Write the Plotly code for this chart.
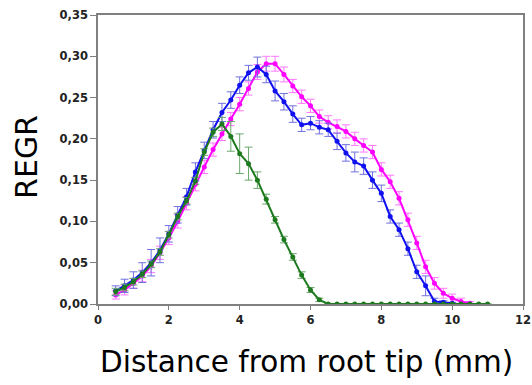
import plotly.graph_objects as go

# Distance from root tip (mm)
x_green = [0.5, 0.75, 1.0, 1.25, 1.5, 1.75, 2.0, 2.25, 2.5, 2.75, 3.0, 3.25, 3.5, 3.75,
           4.0, 4.25, 4.5, 4.75, 5.0, 5.25, 5.5, 5.75, 6.0, 6.25, 6.5, 6.75, 7.0, 7.25,
           7.5, 7.75, 8.0, 8.25, 8.5, 8.75, 9.0, 9.25, 9.5, 9.75, 10.0, 10.25, 10.5,
           10.75, 11.0]
green = [0.015, 0.020, 0.027, 0.036, 0.048, 0.063, 0.084, 0.106, 0.125, 0.149, 0.184,
         0.208, 0.218, 0.203, 0.182, 0.170, 0.150, 0.127, 0.102, 0.078, 0.057, 0.035,
         0.017, 0.005, 0.0, 0.0, 0.0, 0.0, 0.0, 0.0, 0.0, 0.0, 0.0, 0.0, 0.0, 0.0,
         0.0, 0.0, 0.0, 0.0, 0.0, 0.0, 0.0]
green_err = [0.004, 0.004, 0.004, 0.004, 0.004, 0.004, 0.004, 0.004, 0.004, 0.004,
             0.004, 0.005, 0.008, 0.018, 0.024, 0.020, 0.010, 0.006, 0.004, 0.004,
             0.004, 0.004, 0.003, 0.002, 0.0, 0.0, 0.0, 0.0, 0.0, 0.0, 0.0, 0.0, 0.0,
             0.0, 0.0, 0.0, 0.0, 0.0, 0.0, 0.0, 0.0, 0.0, 0.0]

x_blue = [0.5, 0.75, 1.0, 1.25, 1.5, 1.75, 2.0, 2.25, 2.5, 2.75, 3.0, 3.25, 3.5, 3.75,
          4.0, 4.25, 4.5, 4.75, 5.0, 5.25, 5.5, 5.75, 6.0, 6.25, 6.5, 6.75, 7.0, 7.25,
          7.5, 7.75, 8.0, 8.25, 8.5, 8.75, 9.0, 9.25, 9.5, 9.75, 10.0]
blue = [0.016, 0.022, 0.029, 0.038, 0.050, 0.065, 0.085, 0.108, 0.130, 0.160, 0.186,
        0.211, 0.232, 0.247, 0.265, 0.280, 0.287, 0.278, 0.258, 0.245, 0.230, 0.217,
        0.219, 0.214, 0.211, 0.197, 0.183, 0.172, 0.167, 0.150, 0.134, 0.106, 0.090,
        0.067, 0.039, 0.022, 0.003, 0.002, 0.001]
blue_err = [0.006, 0.008, 0.010, 0.012, 0.016, 0.015, 0.010, 0.010, 0.010, 0.011,
            0.010, 0.010, 0.011, 0.010, 0.010, 0.009, 0.012, 0.010, 0.012, 0.010,
            0.010, 0.008, 0.008, 0.008, 0.008, 0.010, 0.010, 0.012, 0.010, 0.010,
            0.010, 0.008, 0.008, 0.008, 0.008, 0.012, 0.004, 0.002, 0.001]

x_magenta = [0.5, 0.75, 1.0, 1.25, 1.5, 1.75, 2.0, 2.25, 2.5, 2.75, 3.0, 3.25, 3.5,
             3.75, 4.0, 4.25, 4.5, 4.75, 5.0, 5.25, 5.5, 5.75, 6.0, 6.25, 6.5, 6.75,
             7.0, 7.25, 7.5, 7.75, 8.0, 8.25, 8.5, 8.75, 9.0, 9.25, 9.5, 9.75, 10.0,
             10.25, 10.5]
magenta = [0.011, 0.017, 0.025, 0.034, 0.046, 0.062, 0.080, 0.100, 0.122, 0.145, 0.166,
           0.187, 0.206, 0.224, 0.242, 0.261, 0.281, 0.291, 0.291, 0.278, 0.264, 0.251,
           0.240, 0.227, 0.220, 0.215, 0.209, 0.200, 0.192, 0.184, 0.163, 0.148, 0.128,
           0.102, 0.074, 0.045, 0.025, 0.013, 0.007, 0.003, 0.001]
magenta_err = [0.005, 0.006, 0.006, 0.007, 0.008, 0.008, 0.008, 0.008, 0.008, 0.008,
               0.008, 0.008, 0.008, 0.008, 0.008, 0.008, 0.009, 0.009, 0.009, 0.009,
               0.008, 0.008, 0.008, 0.008, 0.008, 0.008, 0.008, 0.008, 0.008, 0.008,
               0.008, 0.008, 0.008, 0.008, 0.008, 0.008, 0.007, 0.006, 0.005, 0.004,
               0.002]

y_ticks = [0.0, 0.05, 0.10, 0.15, 0.20, 0.25, 0.30, 0.35]
x_ticks = [0, 2, 4, 6, 8, 10, 12]
x_title = "Distance from root tip (mm)"
y_title = "REGR"


def series(x, y, err, line_color, err_color):
    return go.Scatter(
        x=x, y=y, mode="lines+markers",
        line=dict(color=line_color, width=2),
        marker=dict(color=line_color, size=5),
        error_y=dict(type="data", array=err, visible=True, color=err_color,
                     thickness=1, width=4),
        showlegend=False,
    )


fig = go.Figure()
fig.add_trace(series(x_magenta, magenta, magenta_err, "#ff00ff", "#ff77ff"))
fig.add_trace(series(x_blue, blue, blue_err, "#1010f0", "#7070e0"))
fig.add_trace(series(x_green, green, green_err, "#1e7a1e", "#6aa86a"))

tick_font = dict(family="DejaVu Sans, sans-serif", size=11.5, weight="bold",
                 color="#222222")

fig.update_layout(
    width=532, height=385,
    margin=dict(l=98, r=9, t=15, b=81, autoexpand=False),
    paper_bgcolor="white", plot_bgcolor="white",
    separators=", ",
    annotations=[
        dict(text=x_title, xref="paper", yref="paper", x=0.49, y=-0.2,
             xanchor="center", yanchor="middle", showarrow=False,
             font=dict(family="DejaVu Sans, sans-serif", size=29.5, color="black")),
        dict(text=y_title, xref="paper", yref="paper", x=-0.167, y=0.509,
             xanchor="center", yanchor="middle", showarrow=False, textangle=-90,
             font=dict(family="DejaVu Sans, sans-serif", size=30, color="black")),
    ],
)
fig.update_xaxes(
    range=[0, 12], tickvals=x_ticks, tickformat="d",
    showgrid=False, zeroline=False, automargin=False,
    showline=True, linecolor="#808080", linewidth=1.5, mirror=True,
    ticks="outside", ticklen=4, tickcolor="#808080",
    tickfont=tick_font, ticklabeloverflow="allow",
)
fig.update_yaxes(
    range=[0, 0.35], tickvals=y_ticks, tickformat=".2f",
    showgrid=False, zeroline=False, automargin=False,
    showline=True, linecolor="#808080", linewidth=1.5, mirror=True,
    ticks="outside", ticklen=6, tickcolor="#808080",
    tickfont=tick_font, ticklabeloverflow="allow",
)

fig.write_html(
    "out.html",
    config={"displayModeBar": False},
    post_script="document.body.style.margin='0';document.body.style.overflow='hidden';",
)
